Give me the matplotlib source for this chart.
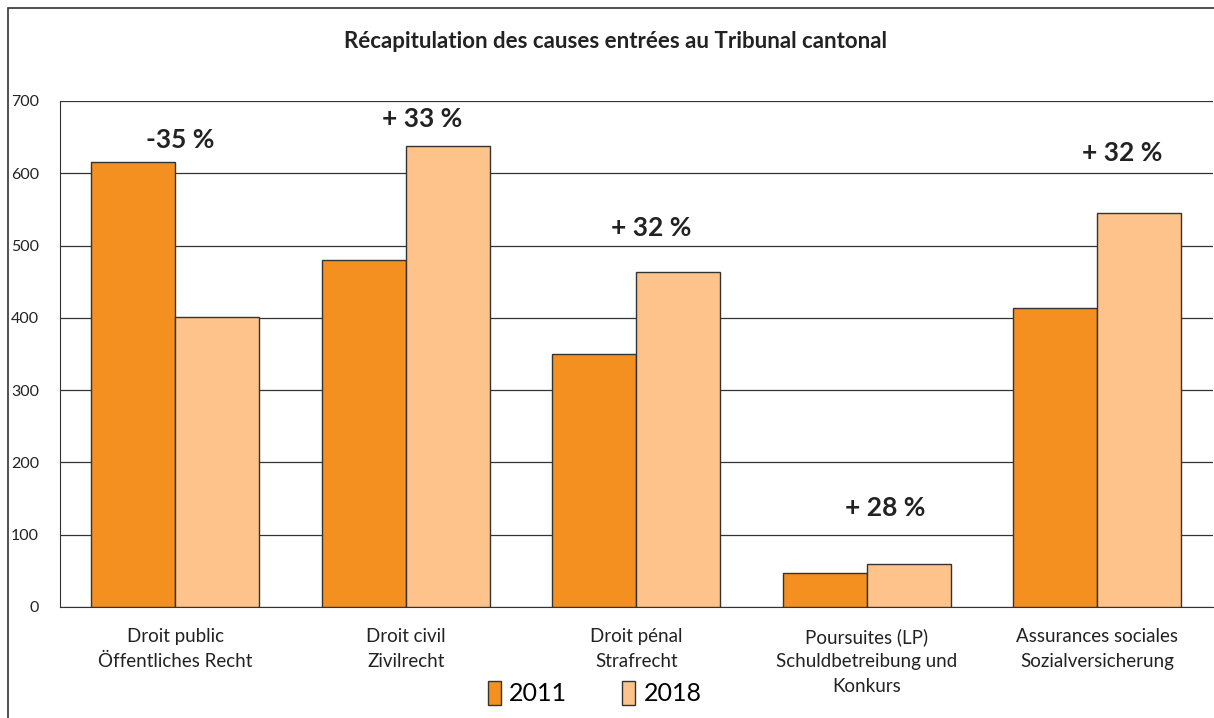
import matplotlib
matplotlib.use('Agg')
import matplotlib.pyplot as plt
import numpy as np
from matplotlib.patches import Rectangle

plt.rcParams['font.family'] = ['Lato', 'DejaVu Sans']

# données
categories = ['Droit public\nÖffentliches Recht', 'Droit civil\nZivilrecht', 'Droit pénal\nStrafrecht',
              'Poursuites (LP)\nSchuldbetreibung und\nKonkurs', 'Assurances sociales\nSozialversicherung']
v2011 = [615, 480, 350, 47, 414]
v2018 = [401, 638, 463, 60, 545]
variations = ['-35 %', '+ 33 %', '+ 32 %', '+ 28 %', '+ 32 %']
# hauteur des étiquettes (valeur de l'axe)
label_y = [646, 675, 524, 137, 628]
label_dx = [0.02, 0.07, 0.065, 0.08, 0.11]

c2011 = '#F39020'
c2018 = '#FDC38A'

fig = plt.figure(figsize=(12.14, 7.18), dpi=100)
ax = fig.add_axes([60 / 1214, 111 / 718, 1152.5 / 1214, 506 / 718])

x = np.arange(len(categories))
w = 0.365
ax.bar(x - w / 2, v2011, w, color=c2011, edgecolor='#333333', linewidth=1, label='2011', zorder=3)
ax.bar(x + w / 2, v2018, w, color=c2018, edgecolor='#333333', linewidth=1, label='2018', zorder=3)

for i, t in enumerate(variations):
    ax.text(x[i] + label_dx[i], label_y[i], t, ha='center', va='center', fontsize=19, fontweight='bold', color='#222222')

ax.set_xlim(-0.5, len(categories) - 0.5)
ax.set_ylim(0, 700)
ax.set_yticks(range(0, 701, 100))
ax.yaxis.grid(True, color='#333333', linewidth=0.9, zorder=0)
ax.set_xticks(x)
ax.set_xticklabels(categories, fontsize=13.5, color='#222222', linespacing=1.55)
ax.tick_params(axis='x', length=0, pad=15)
ax.tick_params(axis='y', length=0, labelsize=11.5, pad=15)
for lab in ax.get_yticklabels():
    lab.set_color('#222222')
for s in ['top', 'right']:
    ax.spines[s].set_visible(False)
ax.spines['left'].set_color('#333333')
ax.spines['bottom'].set_color('#333333')

fig.text(0.507, 1 - 42 / 718, 'Récapitulation des causes entrées au Tribunal cantonal',
         ha='center', va='center', fontsize=16, fontweight='bold', color='#222222')

# cadre
fig.patches.append(Rectangle((8 / 1214, -0.1), 1.2, 1 - 8 / 718 + 0.1, transform=fig.transFigure,
                             fill=False, edgecolor='#333333', linewidth=1.2))

fig.legend(loc='center', bbox_to_anchor=(0.49, 1 - 693 / 718), ncol=2, frameon=False, fontsize=18,
           handlelength=0.5, handleheight=1.15, handletextpad=0.35, columnspacing=2.2)

fig.savefig('out.png', dpi=100)
